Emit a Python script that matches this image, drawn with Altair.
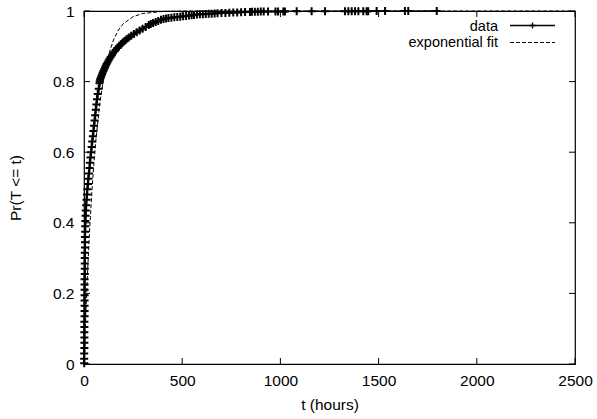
import altair as alt
import pandas as pd

# ---------------- data ----------------
# empirical CDF of the data (t in hours, F = Pr(T <= t))
t_data = [1, 1, 1, 2, 2, 2, 2, 2, 2, 3, 3, 3, 3, 3, 3, 3, 3, 4, 4, 4, 4, 4, 5, 5, 5, 6, 6, 7, 8,
          9, 11, 13, 15, 17, 20, 22, 25, 28, 30, 33, 36, 39, 42, 45, 48, 51, 54, 57, 60, 63, 66, 70, 75, 79,
          80, 82, 85, 88, 92, 95, 99, 103, 107, 111, 115, 120, 125, 130, 136, 142, 148, 155, 162, 170,
          178, 187, 196, 206, 216, 228, 240, 254, 268, 283, 298, 314, 330,
          340, 352, 365, 378, 392, 405, 418, 430, 445, 460, 475, 490, 505, 520, 535, 548, 560,
          575, 590, 605, 620, 635, 650, 665, 680, 700, 720, 740, 760, 780, 800, 820, 845,
          855, 870, 885, 900, 915, 937, 975, 988, 1015, 1023, 1083, 1159, 1227, 1329, 1346, 1363,
          1380, 1397, 1422, 1439, 1447, 1490, 1533, 1634, 1651, 1796]
F_data = [0.002, 0.015, 0.03, 0.045, 0.06, 0.075, 0.09, 0.105, 0.12, 0.135, 0.15, 0.165, 0.18, 0.195,
          0.21, 0.225, 0.24, 0.255, 0.27, 0.285, 0.30, 0.315, 0.33, 0.345, 0.36, 0.375, 0.39, 0.405, 0.42,
          0.435, 0.45, 0.465, 0.48, 0.495, 0.51, 0.525, 0.54, 0.555, 0.57, 0.585, 0.60, 0.615, 0.63, 0.645,
          0.66, 0.675, 0.69, 0.705, 0.72, 0.735, 0.75, 0.765, 0.78, 0.795,
          0.800, 0.805, 0.810, 0.815, 0.820, 0.825, 0.830, 0.835, 0.840, 0.845, 0.850, 0.855, 0.860, 0.865,
          0.870, 0.875, 0.880, 0.885, 0.890, 0.895, 0.900, 0.905, 0.910, 0.915, 0.920, 0.925, 0.930, 0.935,
          0.940, 0.945, 0.950, 0.955, 0.960,
          0.963, 0.966, 0.969, 0.972, 0.975, 0.977, 0.979, 0.980, 0.981, 0.982, 0.983, 0.984, 0.985, 0.986,
          0.987, 0.988, 0.989,
          0.990, 0.9905, 0.991, 0.9915, 0.992, 0.9925, 0.993, 0.9935, 0.994, 0.9945, 0.995, 0.9955, 0.996,
          0.9965, 0.997, 0.9975,
          0.9980, 0.9981, 0.9982, 0.9983, 0.9984, 0.9985, 0.9986, 0.9987, 0.9988, 0.9989, 0.9990, 0.9991,
          0.9992, 0.9993, 0.9993, 0.9994, 0.9994, 0.9995, 0.9995, 0.9996, 0.9996, 0.9997, 0.9998, 0.9998,
          0.9999, 1.0]

# exponential fit curve (dashed)
t_fit = [0, 5, 10, 20, 30, 40, 50, 60, 80, 100, 125, 150, 175, 200, 250, 300, 400, 500, 2500]
F_fit = [0.0, 0.080, 0.154, 0.283, 0.393, 0.487, 0.565, 0.632, 0.736, 0.811, 0.875, 0.918, 0.946,
         0.964, 0.984, 0.993, 0.9987, 0.9998, 1.0]

x_ticks = [0, 500, 1000, 1500, 2000, 2500]
y_ticks = [0, 0.2, 0.4, 0.6, 0.8, 1]
legend_labels = ["data", "exponential fit"]

# ---------------- chart ----------------
W, H = 491, 353
FONT = "Liberation Sans"
FS = 15.5
LFS = 14.5
TICK = 6

xs = alt.Scale(domain=[0, 2500], nice=False, zero=False)
ys = alt.Scale(domain=[0, 1], nice=False, zero=False)

x_axis = alt.Axis(values=x_ticks, ticks=False, domain=False, grid=False,
                  labelFont=FONT, labelFontSize=FS, labelColor="black", labelPadding=9,
                  labelFlush=False, labelOverlap=False, format="d",
                  title="t (hours)", titleFont=FONT, titleFontSize=FS, titleFontWeight="normal",
                  titleColor="black", titlePadding=9)
y_axis = alt.Axis(values=y_ticks, ticks=False, domain=False, grid=False,
                  labelFont=FONT, labelFontSize=FS, labelColor="black", labelPadding=10,
                  labelFlush=False, labelOverlap=False,
                  labelExpr="datum.value == 0 ? '0' : datum.value == 1 ? '1' : format(datum.value, '.1f')",
                  title="Pr(T <= t)", titleFont=FONT, titleFontSize=FS, titleFontWeight="normal",
                  titleColor="black", titlePadding=29)

data_df = pd.DataFrame({"t": t_data, "F": F_data, "i": list(range(len(t_data)))})
fit_df = pd.DataFrame({"t": t_fit, "F": F_fit, "i": list(range(len(t_fit)))})

X = alt.X("t:Q", scale=xs, axis=x_axis)
Y = alt.Y("F:Q", scale=ys, axis=y_axis)

PLUS = "M-1,0L1,0M0,-1L0,1"

data_line = alt.Chart(data_df).mark_line(color="black", strokeWidth=1.3).encode(
    x=X, y=Y, order="i:Q")
data_pts = alt.Chart(data_df).mark_point(shape=PLUS, size=64, filled=False, color="black",
                                         strokeWidth=2, opacity=1).encode(x=X, y=Y)
fit_line = alt.Chart(fit_df).mark_line(color="black", strokeWidth=1, strokeDash=[4, 2]).encode(
    x=X, y=Y, order="i:Q")

xt_df = pd.DataFrame({"t": x_ticks})
yt_df = pd.DataFrame({"F": y_ticks})
tick_b = alt.Chart(xt_df).mark_rule(color="black", strokeWidth=1).encode(
    x=X, y=alt.value(H), y2=alt.value(H - TICK))
tick_t = alt.Chart(xt_df).mark_rule(color="black", strokeWidth=1).encode(
    x=X, y=alt.value(0), y2=alt.value(TICK))
tick_l = alt.Chart(yt_df).mark_rule(color="black", strokeWidth=1).encode(
    y=Y, x=alt.value(0), x2=alt.value(TICK))
tick_r = alt.Chart(yt_df).mark_rule(color="black", strokeWidth=1).encode(
    y=Y, x=alt.value(W), x2=alt.value(W - TICK))

# legend (gnuplot style: label on the left, sample on the right)
leg_x_text = 414
leg_x0, leg_x1 = 426, 471
leg1 = alt.Chart(pd.DataFrame({"label": [legend_labels[0]]})).mark_text(
    align="right", baseline="alphabetic", font=FONT, fontSize=LFS, color="black").encode(
    text="label:N", x=alt.value(leg_x_text), y=alt.value(20))
leg2 = alt.Chart(pd.DataFrame({"label": [legend_labels[1]]})).mark_text(
    align="right", baseline="alphabetic", font=FONT, fontSize=LFS, color="black").encode(
    text="label:N", x=alt.value(leg_x_text), y=alt.value(35.5))
leg1_line = alt.Chart(pd.DataFrame({"k": [0]})).mark_rule(color="black", strokeWidth=1.3).encode(
    x=alt.value(leg_x0), x2=alt.value(leg_x1), y=alt.value(14.5))
leg1_pt = alt.Chart(pd.DataFrame({"k": [0]})).mark_point(
    shape=PLUS, size=36, filled=False, color="black", strokeWidth=1.3, opacity=1).encode(
    x=alt.value((leg_x0 + leg_x1) / 2), y=alt.value(14.5))
leg2_line = alt.Chart(pd.DataFrame({"k": [0]})).mark_rule(
    color="black", strokeWidth=1, strokeDash=[4, 2]).encode(
    x=alt.value(leg_x0), x2=alt.value(leg_x1), y=alt.value(31.5))

chart = alt.layer(
    data_line, data_pts, fit_line, tick_b, tick_t, tick_l, tick_r,
    leg1, leg2, leg1_line, leg1_pt, leg2_line
).properties(
    width=W, height=H,
    autosize=alt.AutoSizeParams(type="none"),
    padding={"left": 84, "top": 11, "right": 22, "bottom": 55},
    background="white",
).configure_view(stroke="black", strokeWidth=1.2)

chart.save("out.html", embed_options={"renderer": "svg", "actions": False})
